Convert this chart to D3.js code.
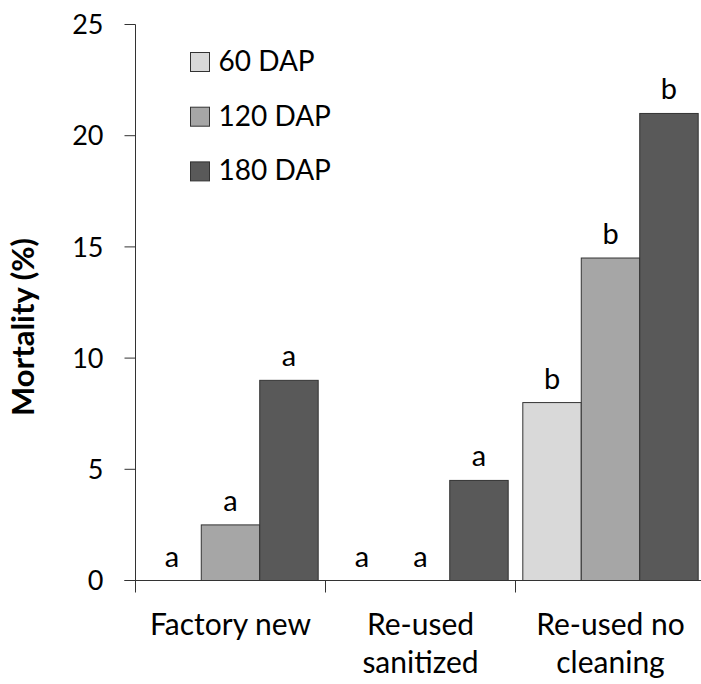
<!DOCTYPE html>
<html>
<head>
<meta charset="utf-8">
<script src="https://cdn.jsdelivr.net/npm/d3@7"></script>
<style>
  body { margin: 0; background: #fff; }
  svg text { font-family: Lato, "Open Sans", sans-serif; fill: #000; }
</style>
</head>
<body>
<svg id="chart"></svg>
<script>
const width = 701;
const height = 684;

// data
const categories = [["Factory new"], ["Re-used", "sanitized"], ["Re-used no", "cleaning"]];
const series = ["60 DAP", "120 DAP", "180 DAP"];
const values = [
    [0, 2.5, 9],
    [0, 0, 4.5],
    [8, 14.5, 21]
];
const letters = [
    ["a", "a", "a"],
    ["a", "a", "a"],
    ["b", "b", "b"]
];
const yTicks = [0, 5, 10, 15, 20, 25];
const colors = ["#d9d9d9", "#a6a6a6", "#595959"];

const svg = d3.select("#chart")
    .attr("width", width)
    .attr("height", height);

const plotLeft = 135.5, plotBottom = 580.5, plotTop = 24.5;

const y = d3.scaleLinear()
    .domain([0, 25])
    .range([plotBottom, plotTop]);

const x0 = d3.scaleBand()
    .domain(d3.range(categories.length))
    .range([plotLeft, plotLeft + 570])
    .padding(0);

const x1 = d3.scaleBand()
    .domain(d3.range(series.length))
    .range([0, x0.bandwidth()])
    .paddingInner(0)
    .paddingOuter(0.125);

// bars
const groups = svg.append("g")
    .selectAll("g")
    .data(values)
    .join("g")
    .attr("transform", (d, i) => `translate(${x0(i)},0)`);

groups.selectAll("rect")
    .data(d => d.map((v, j) => ({v, j})).filter(o => o.v > 0))
    .join("rect")
    .attr("x", d => x1(d.j))
    .attr("y", d => y(d.v))
    .attr("width", x1.bandwidth())
    .attr("height", d => y(0) - y(d.v))
    .attr("fill", d => colors[d.j])
    .attr("stroke", "#333")
    .attr("stroke-width", 1);

groups.selectAll("text.sig")
    .data((d, i) => d.map((v, j) => ({v, j, t: letters[i][j]})))
    .join("text")
    .attr("class", "sig")
    .attr("x", d => x1(d.j) + x1.bandwidth() / 2)
    .attr("y", d => y(d.v) - 14)
    .attr("text-anchor", "middle")
    .style("font-size", "29px")
    .text(d => d.t);

// y axis
const yAxis = svg.append("g");
yAxis.append("line")
    .attr("x1", plotLeft).attr("x2", plotLeft)
    .attr("y1", plotTop).attr("y2", plotBottom)
    .attr("stroke", "#333");
yAxis.selectAll("line.tick")
    .data(yTicks)
    .join("line")
    .attr("class", "tick")
    .attr("x1", plotLeft - 11).attr("x2", plotLeft)
    .attr("y1", d => y(d)).attr("y2", d => y(d))
    .attr("stroke", "#333");
yAxis.selectAll("text")
    .data(yTicks)
    .join("text")
    .attr("x", plotLeft - 32)
    .attr("y", d => y(d))
    .attr("dy", "0.36em")
    .attr("text-anchor", "end")
    .style("font-size", "27px")
    .text(d => d);

svg.append("text")
    .attr("transform", "translate(34,327) rotate(-90)")
    .attr("text-anchor", "middle")
    .style("font-size", "31px")
    .style("font-weight", "bold")
    .text("Mortality (%)");

// x axis
const xAxis = svg.append("g");
xAxis.append("line")
    .attr("x1", plotLeft - 11).attr("x2", plotLeft + 570)
    .attr("y1", plotBottom).attr("y2", plotBottom)
    .attr("stroke", "#333");
xAxis.selectAll("line.tick")
    .data(d3.range(categories.length + 1))
    .join("line")
    .attr("class", "tick")
    .attr("x1", d => plotLeft + d * x0.step()).attr("x2", d => plotLeft + d * x0.step())
    .attr("y1", plotBottom).attr("y2", plotBottom + 12)
    .attr("stroke", "#333");

const labels = xAxis.selectAll("text")
    .data(categories)
    .join("text")
    .attr("x", (d, i) => x0(i) + x0.bandwidth() / 2)
    .attr("y", 635)
    .attr("text-anchor", "middle")
    .style("font-size", "30px");
labels.selectAll("tspan")
    .data(d => d)
    .join("tspan")
    .attr("x", function () { return d3.select(this.parentNode).attr("x"); })
    .attr("dy", (d, i) => i === 0 ? 0 : 38)
    .text(d => d);

// legend
const legend = svg.append("g")
    .attr("transform", "translate(190.5,52.5)");
const items = legend.selectAll("g")
    .data(series)
    .join("g")
    .attr("transform", (d, i) => `translate(0,${i * 54.7})`);
items.append("rect")
    .attr("width", 19)
    .attr("height", 19)
    .attr("fill", (d, i) => colors[i])
    .attr("stroke", "#333");
items.append("text")
    .attr("x", 28)
    .attr("y", 18.5)
    .style("font-size", "28px")
    .text(d => d);
</script>
</body>
</html>
